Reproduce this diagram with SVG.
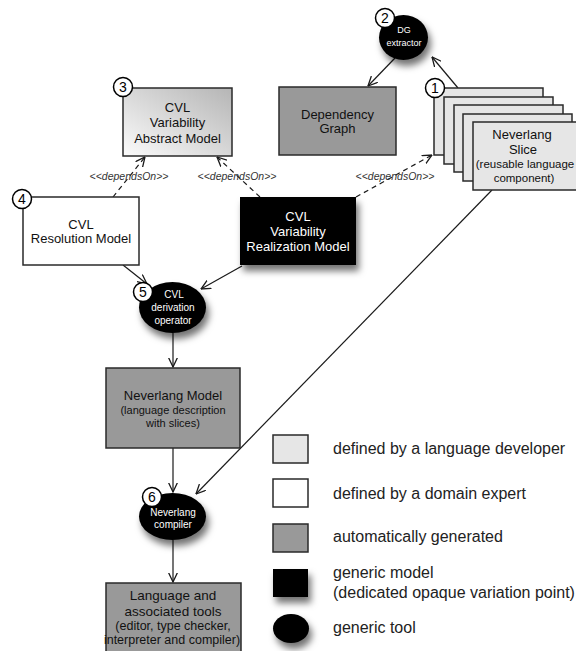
<svg xmlns="http://www.w3.org/2000/svg" width="576" height="651" viewBox="0 0 576 651">
<style>
text{font-family:"Liberation Sans",Arial,Helvetica,sans-serif;text-anchor:middle;fill:#111}
.t13{font-size:13px}
.t11{font-size:11.5px}
.t10{font-size:10px;fill:#fff}
.t9{font-size:9px;fill:#fff}
.w13{font-size:13px;fill:#fff}
.lg{font-size:16px;text-anchor:start;fill:#222}
.dep{font-size:10.5px;font-style:italic;fill:#333}
.num{font-size:14px;fill:#000}
.box{stroke:#2a2a2a;stroke-width:1.5}
.gray{fill:#999}
.light{fill:#e6e6e6}
.white{fill:#fff}
.blk{fill:#000;filter:url(#sh)}
.ncirc{fill:#fff;stroke:#000;stroke-width:1.5}
.conn{stroke:#1a1a1a;stroke-width:1.2;fill:none;marker-end:url(#arr)}
.dash{stroke-dasharray:5,4}
</style>
<defs>
<marker id="arr" viewBox="0 0 10 10" refX="9.5" refY="5" markerWidth="10" markerHeight="10" markerUnits="userSpaceOnUse" orient="auto">
<path d="M0,0.5 L9.5,5 L0,9.5" fill="none" stroke="#1a1a1a" stroke-width="1.3"/>
</marker>
<linearGradient id="g3" x1="1" y1="0" x2="0" y2="1">
<stop offset="0" stop-color="#b5b5b5"/>
<stop offset="1" stop-color="#fbfbfb"/>
</linearGradient>
<filter id="sh" x="-30%" y="-30%" width="170%" height="180%">
<feDropShadow dx="3" dy="6" stdDeviation="3.5" flood-color="#000" flood-opacity="0.55"/>
</filter>
</defs>

<g id="connectors">
<line class="conn" x1="458" y1="88" x2="432" y2="57"/>
<line class="conn" x1="395" y1="58" x2="368" y2="86"/>
<line class="conn dash" x1="113" y1="197" x2="145" y2="157"/>
<line class="conn dash" x1="260" y1="197" x2="217" y2="157"/>
<line class="conn dash" x1="356" y1="197" x2="432" y2="155"/>
<line class="conn" x1="123" y1="265" x2="147" y2="284"/>
<line class="conn" x1="242" y1="266" x2="201" y2="289"/>
<line class="conn" x1="173" y1="333" x2="173" y2="367"/>
<line class="conn" x1="173" y1="448" x2="173" y2="492"/>
<line class="conn" x1="492" y1="190" x2="196" y2="494"/>
<line class="conn" x1="173" y1="540" x2="173" y2="582"/>
<text class="dep" x="129" y="180">&lt;&lt;dependsOn&gt;&gt;</text>
<text class="dep" x="237" y="180">&lt;&lt;dependsOn&gt;&gt;</text>
<text class="dep" x="395" y="180">&lt;&lt;dependsOn&gt;&gt;</text>
</g>

<g id="dg-extractor">
<ellipse class="blk" cx="403.5" cy="37.5" rx="24.5" ry="22.5"/>
<text class="t9" x="404" y="33">DG</text>
<text class="t9" x="404" y="46">extractor</text>
<circle class="ncirc" cx="385" cy="18" r="9.5"/>
<text class="num" x="385" y="23">2</text>
</g>

<g id="dependency-graph">
<rect class="box gray" x="279" y="87" width="117" height="68"/>
<text class="t13" x="337.5" y="119">Dependency</text>
<text class="t13" x="337.5" y="133">Graph</text>
</g>

<g id="neverlang-slice">
<rect class="box light" x="434" y="88" width="109" height="67"/>
<rect class="box light" x="444" y="97" width="109" height="67"/>
<rect class="box light" x="454" y="105" width="109" height="67"/>
<rect class="box light" x="463" y="114" width="109" height="67"/>
<rect class="box light" x="473" y="122" width="109" height="68"/>
<text class="t13" x="522" y="139">Neverlang</text>
<text class="t13" x="523" y="154">Slice</text>
<text class="t11" x="525" y="168">(reusable language</text>
<text class="t11" x="524" y="182">component)</text>
<circle class="ncirc" cx="435" cy="88" r="9.5"/>
<text class="num" x="435" y="93">1</text>
</g>

<g id="cvl-abstract">
<rect class="box" fill="url(#g3)" x="123" y="88" width="109" height="68"/>
<text class="t13" x="177.5" y="112">CVL</text>
<text class="t13" x="177.5" y="127">Variability</text>
<text class="t13" x="177.5" y="143">Abstract Model</text>
<circle class="ncirc" cx="123" cy="87" r="9.5"/>
<text class="num" x="123" y="92">3</text>
</g>

<g id="cvl-resolution">
<rect class="box white" x="23" y="197" width="116" height="68"/>
<text class="t13" x="81" y="229">CVL</text>
<text class="t13" x="81" y="243">Resolution Model</text>
<circle class="ncirc" cx="22" cy="199" r="9.5"/>
<text class="num" x="22" y="204">4</text>
</g>

<g id="cvl-realization">
<rect class="blk" x="240" y="197" width="116" height="68"/>
<text class="w13" x="298" y="221">CVL</text>
<text class="w13" x="298" y="236">Variability</text>
<text class="w13" x="298" y="251">Realization Model</text>
</g>

<g id="cvl-derivation">
<ellipse class="blk" cx="172.5" cy="307.5" rx="33.5" ry="25.5"/>
<text class="t10" x="174" y="298">CVL</text>
<text class="t10" x="173" y="311">derivation</text>
<text class="t10" x="173" y="324">operator</text>
<circle class="ncirc" cx="143" cy="292" r="9.5"/>
<text class="num" x="143" y="297">5</text>
</g>

<g id="neverlang-model">
<rect class="box gray" x="106" y="368" width="134" height="80"/>
<text class="t13" x="173" y="400">Neverlang Model</text>
<text class="t11" x="173" y="414" style="font-size:11px">(language description</text>
<text class="t11" x="173" y="427" style="font-size:11px">with slices)</text>
</g>

<g id="neverlang-compiler">
<ellipse class="blk" cx="172.5" cy="516.5" rx="33.5" ry="23.5"/>
<text class="t10" x="173" y="516">Neverlang</text>
<text class="t10" x="173" y="528">compiler</text>
<circle class="ncirc" cx="152" cy="497" r="9.5"/>
<text class="num" x="152" y="502">6</text>
</g>

<g id="language-tools">
<rect class="box gray" x="106" y="583" width="135" height="70"/>
<text class="t13" x="173" y="600" style="font-size:13.5px">Language and</text>
<text class="t13" x="173" y="616" style="font-size:13.5px">associated tools</text>
<text class="t11" x="173" y="630" style="font-size:12.5px">(editor, type checker,</text>
<text class="t11" x="172" y="644" style="font-size:12.5px">interpreter and compiler)</text>
</g>

<g id="legend">
<rect class="box light" x="273" y="435" width="35" height="28"/>
<text class="lg" x="333" y="454">defined by a language developer</text>
<rect class="box white" x="273" y="479" width="35" height="28"/>
<text class="lg" x="333" y="499">defined by a domain expert</text>
<rect class="box gray" x="273" y="524" width="35" height="28"/>
<text class="lg" x="333" y="542">automatically generated</text>
<rect class="blk" x="273" y="569" width="35" height="28"/>
<text class="lg" x="333" y="578">generic model</text>
<text class="lg" x="333" y="598">(dedicated opaque variation point)</text>
<ellipse class="blk" cx="291" cy="628.5" rx="18" ry="14.5"/>
<text class="lg" x="333" y="633">generic tool</text>
</g>
</svg>
